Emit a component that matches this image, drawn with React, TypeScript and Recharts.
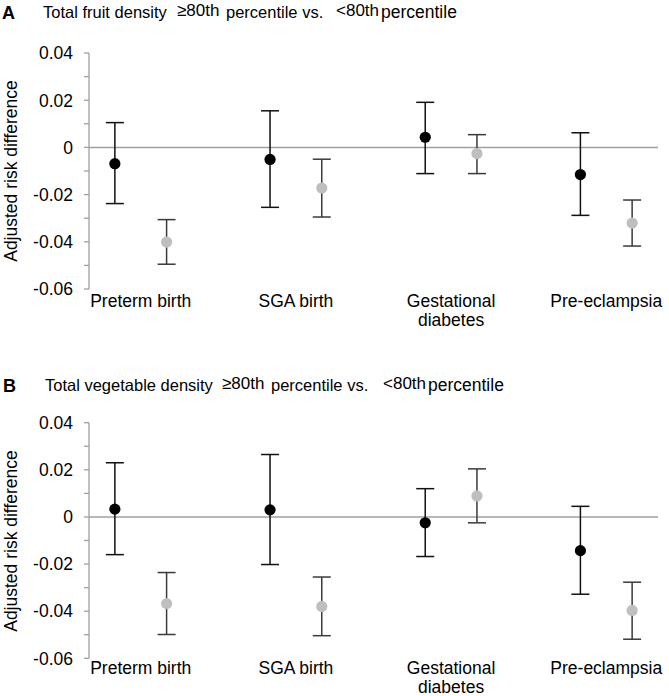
import React from 'react';
import { ComposedChart, Scatter, ErrorBar, XAxis, YAxis, ReferenceLine } from 'recharts';

const categoryLines: string[][] = [['Preterm birth'], ['SGA birth'], ['Gestational', 'diabetes'], ['Pre-eclampsia']];

// Panel A: Total fruit density
const fruitBlack = [-0.0069, -0.0051, 0.0043, -0.0115];
const fruitBlackLow = [-0.0238, -0.0254, -0.0111, -0.0288];
const fruitBlackHigh = [0.0105, 0.0155, 0.0191, 0.0062];
const fruitGray = [-0.0401, -0.0172, -0.0026, -0.0321];
const fruitGrayLow = [-0.0495, -0.0295, -0.0111, -0.0418];
const fruitGrayHigh = [-0.0306, -0.0050, 0.0054, -0.0223];

// Panel B: Total vegetable density
const vegBlack = [0.0033, 0.0030, -0.0025, -0.0143];
const vegBlackLow = [-0.0160, -0.0202, -0.0168, -0.0328];
const vegBlackHigh = [0.0230, 0.0265, 0.0120, 0.0045];
const vegGray = [-0.0368, -0.0380, 0.0089, -0.0397];
const vegGrayLow = [-0.0499, -0.0504, -0.0025, -0.0519];
const vegGrayHigh = [-0.0236, -0.0255, 0.0204, -0.0277];

const yTicks = [-0.06, -0.05, -0.04, -0.03, -0.02, -0.01, 0, 0.01, 0.02, 0.03, 0.04];
const yTickLabels = ['-0.06', '', '-0.04', '', '-0.02', '', '0', '', '0.02', '', '0.04'];

const FONT = '"Liberation Sans", Arial, Helvetica, sans-serif';
const GRAY_SERIES = '#bfbfbf';
const AXIS_GRAY = '#a0a0a0';

const GRAY_OFFSET = 1 / 3;
const xTicks = categoryLines.map((_, i) => i + 1 + GRAY_OFFSET / 2);

function build(vals: number[], lo: number[], hi: number[], offset: number) {
  return vals.map((v, i) => ({ x: i + 1 + offset, y: v, err: [v - lo[i], hi[i] - v] }));
}

const YTick = (props: any) => {
  const { x, y, index } = props;
  const label = yTickLabels[index];
  if (!label) return null;
  return (
    <text x={x} y={y} dy="0.36em" textAnchor="end" fontSize={17.5} fontFamily={FONT} fill="#000">
      {label}
    </text>
  );
};

const makeXTick = (baseDy: number) => (props: any) => {
  const { x, y, index } = props;
  const lines = categoryLines[index] || [];
  return (
    <g>
      {lines.map((l, k) => (
        <text key={k} x={x} y={y + baseDy + k * 19} textAnchor="middle" fontSize={17.5} fontFamily={FONT} fill="#000">
          {l}
        </text>
      ))}
    </g>
  );
};

const Dot = (color: string) => (props: any) => <circle cx={props.cx} cy={props.cy} r={5.6} fill={color} />;

function Panel({ black, gray, top, bottom, labelDy }: any) {
  return (
    <ComposedChart
      width={669}
      height={348}
      margin={{ top, right: 11, bottom, left: 0 }}
      style={{ fontFamily: FONT }}
    >
      <XAxis
        type="number"
        dataKey="x"
        domain={[1 - GRAY_OFFSET / 2, 4 + GRAY_OFFSET * 1.5]}
        ticks={xTicks}
        interval={0}
        allowDataOverflow
        axisLine={false}
        tickLine={false}
        tickSize={0}
        tickMargin={0}
        height={20}
        tick={makeXTick(labelDy)}
      />
      <YAxis
        type="number"
        domain={[-0.06, 0.04]}
        ticks={yTicks}
        interval={0}
        width={89}
        axisLine={{ stroke: AXIS_GRAY, strokeWidth: 1.3 }}
        tickLine={{ stroke: AXIS_GRAY, strokeWidth: 1.3 }}
        tickSize={5}
        tickMargin={11}
        tick={<YTick />}
        allowDataOverflow
      />
      <ReferenceLine y={0} stroke={AXIS_GRAY} strokeWidth={1.5} ifOverflow="extendDomain" />
      <Scatter data={black} dataKey="y" isAnimationActive={false} shape={Dot('#000')}>
        <ErrorBar dataKey="err" direction="y" width={9} stroke="#111" strokeWidth={1.5} />
      </Scatter>
      <Scatter data={gray} dataKey="y" isAnimationActive={false} shape={Dot(GRAY_SERIES)}>
        <ErrorBar dataKey="err" direction="y" width={9} stroke="#3a3a3a" strokeWidth={1.5} />
      </Scatter>
    </ComposedChart>
  );
}

function Title({ y, lead, xs }: { y: number; lead: string; xs: number[] }) {
  return (
    <text y={y} fontSize={16.5} fontFamily={FONT} fill="#000">
      <tspan x={xs[0]}>{lead}</tspan>
      <tspan x={xs[1]} dy={-2} fontSize={17}>≥80th</tspan>
      <tspan x={xs[2]} dy={2}>percentile vs.</tspan>
      <tspan x={xs[3]} dy={-2} fontSize={17}>&lt;80th</tspan>
      <tspan x={xs[4]} dy={2} fontSize={17.5}>percentile</tspan>
    </text>
  );
}

export default function App() {
  const aBlack = build(fruitBlack, fruitBlackLow, fruitBlackHigh, 0);
  const aGray = build(fruitGray, fruitGrayLow, fruitGrayHigh, GRAY_OFFSET);
  const bBlack = build(vegBlack, vegBlackLow, vegBlackHigh, 0);
  const bGray = build(vegGray, vegGrayLow, vegGrayHigh, GRAY_OFFSET);
  return (
    <div style={{ position: 'absolute', left: 0, top: 0, width: 669, height: 696, background: '#fff', fontFamily: FONT }}>
      <div style={{ position: 'absolute', left: 0, top: 0 }}>
        <Panel black={aBlack} gray={aGray} top={53} bottom={39} labelDy={18} />
      </div>
      <div style={{ position: 'absolute', left: 0, top: 348 }}>
        <Panel black={bBlack} gray={bGray} top={74.7} bottom={17.7} labelDy={16} />
      </div>
      <svg width={669} height={696} style={{ position: 'absolute', left: 0, top: 0, pointerEvents: 'none' }}>
        <text x={2} y={19} fontSize={18} fontWeight="bold" fontFamily={FONT} fill="#000">A</text>
        <Title y={17.5} lead="Total fruit density" xs={[43, 177, 226, 336, 381]} />
        <text x={3} y={392} fontSize={18} fontWeight="bold" fontFamily={FONT} fill="#000">B</text>
        <Title y={391} lead="Total vegetable density" xs={[45, 222, 271, 383, 428]} />
        <text transform="translate(17,171) rotate(-90)" textAnchor="middle" fontSize={17.5} fontFamily={FONT} fill="#000">
          Adjusted risk difference
        </text>
        <text transform="translate(17,541) rotate(-90)" textAnchor="middle" fontSize={17.5} fontFamily={FONT} fill="#000">
          Adjusted risk difference
        </text>
      </svg>
    </div>
  );
}
